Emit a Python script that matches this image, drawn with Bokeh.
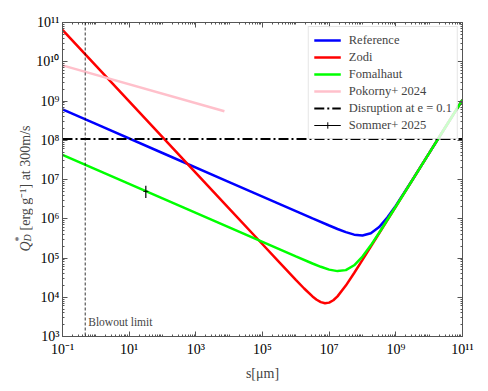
import numpy as np
from bokeh.plotting import figure
from bokeh.layouts import row
from bokeh.models import (FixedTicker, CustomJSTickFormatter, LogAxis, Label,
                          Legend, LegendItem, Span)
from bokeh.embed import file_html
from bokeh.resources import INLINE

FONT = "Liberation Serif"

# ---- data (log10 of s [um] and log10 of Q_D*) ----
ref_log_s = [-1, 0, 2, 4, 6, 6.5, 7, 7.25, 7.5, 7.75, 8, 8.25, 8.5, 8.75, 9, 9.5, 10, 10.5, 11]
ref_log_q = [8.785, 8.415, 7.675, 6.935, 6.195, 6.01, 5.828, 5.739, 5.658, 5.595, 5.573,
             5.629, 5.788, 6.036, 6.335, 6.994, 7.67, 8.35, 9.03]

zodi_log_s = [-1, 0, 2, 4, 5, 5.5, 6, 6.25, 6.5, 6.625, 6.75, 6.875, 7, 7.125, 7.25, 7.5,
              7.75, 8, 8.5, 9, 9.5, 10, 10.5, 11]
zodi_log_q = [10.81, 9.90, 8.08, 6.26, 5.35, 4.895, 4.443, 4.223, 4.020, 3.936, 3.875, 3.847,
              3.863, 3.923, 4.022, 4.297, 4.618, 4.952, 5.63, 6.31, 6.99, 7.67, 8.35, 9.03]

fom_log_s = [-1, 0, 2, 4, 5, 6, 6.5, 6.75, 7, 7.25, 7.5, 7.75, 8, 8.25, 8.5, 9, 9.5, 10, 10.5, 11]
fom_log_q = [7.63, 7.26, 6.52, 5.78, 5.41, 5.041, 4.860, 4.776, 4.704, 4.666, 4.691, 4.815,
             5.037, 5.323, 5.643, 6.312, 6.99, 7.67, 8.35, 9.03]

pokorny_s = [0.1, 7.2e3]
pokorny_q = [8.1e9, 5.5e8]

disruption_q = 1.07e8
blowout_s = 0.48

sommer_s = [31.6]
sommer_q = [5.0e6]
sommer_lo = [3.4e6]
sommer_hi = [6.9e6]

x_lim = [1e-1, 1e11]
y_lim = [1e3, 1e11]
x_major_exp = list(range(-1, 12, 2))
y_major_exp = list(range(3, 12))

LABEL_W = 33
TOTAL_W = 480
TOTAL_H = 383

# ---- main figure ----
p = figure(width=TOTAL_W - LABEL_W, height=TOTAL_H, x_axis_type="log", y_axis_type="log",
           x_range=(x_lim[0], x_lim[1]), y_range=(y_lim[0], y_lim[1]),
           output_backend="svg", toolbar_location=None,
           min_border_left=62 - LABEL_W, min_border_right=18, min_border_top=22,
           min_border_bottom=44)
p.background_fill_color = "white"
p.border_fill_color = "white"
p.outline_line_color = "#555555"
p.xgrid.grid_line_color = None
p.ygrid.grid_line_color = None

x_minor = [k * 10.0 ** n for n in range(-1, 11) for k in range(1, 10)
           if not (k == 1 and n in x_major_exp)]
y_minor = [k * 10.0 ** n for n in range(3, 11) for k in range(2, 10)]
xt = FixedTicker(ticks=[10.0 ** e for e in x_major_exp], minor_ticks=x_minor)
yt = FixedTicker(ticks=[10.0 ** e for e in y_major_exp], minor_ticks=y_minor)

fmt_code = """
const sup = {'-':'\u207b','0':'\u2070','1':'\u00b9','2':'\u00b2','3':'\u00b3','4':'\u2074',
             '5':'\u2075','6':'\u2076','7':'\u2077','8':'\u2078','9':'\u2079'};
const e = Math.round(Math.log10(tick));
return '10' + String(e).split('').map(c => sup[c]).join('');
"""


def style_axis(ax, show_labels, standoff=3):
    ax.axis_line_color = "#555555"
    ax.major_tick_line_color = "#555555"
    ax.minor_tick_line_color = "#555555"
    ax.major_tick_in = 5
    ax.major_tick_out = 0
    ax.minor_tick_in = 2
    ax.minor_tick_out = 0
    ax.major_label_text_font = FONT
    if show_labels:
        ax.major_label_text_font_size = "14px"
        ax.major_label_text_color = "black"
        ax.major_label_standoff = standoff
        ax.formatter = CustomJSTickFormatter(code=fmt_code)
    else:
        ax.major_label_text_font_size = "4px"
        ax.major_label_text_alpha = 0
        ax.major_label_standoff = 0
        ax.formatter = CustomJSTickFormatter(code="return ' ';")


xa = p.xaxis[0]
ya = p.yaxis[0]
xa.ticker = xt
ya.ticker = yt
style_axis(xa, True, standoff=5)
style_axis(ya, True, standoff=3)
xa.axis_label = "s[\u03bcm]"
xa.axis_label_text_font = FONT
xa.axis_label_text_font_size = "14px"
xa.axis_label_text_font_style = "normal"
xa.axis_label_standoff = 6

top = LogAxis(ticker=xt)
style_axis(top, False)
right = LogAxis(ticker=yt)
style_axis(right, False)
p.add_layout(top, "above")
p.add_layout(right, "right")

# ---- data renderers ----
r_ref = p.line(10.0 ** np.array(ref_log_s), 10.0 ** np.array(ref_log_q), line_color="#0000ff", line_width=2.5)
r_zodi = p.line(10.0 ** np.array(zodi_log_s), 10.0 ** np.array(zodi_log_q), line_color="#ff0000", line_width=2.5)
r_fom = p.line(10.0 ** np.array(fom_log_s), 10.0 ** np.array(fom_log_q), line_color="#00ff00", line_width=2.5)
r_pok = p.line(pokorny_s, pokorny_q, line_color="#ffc0cb", line_width=2.5)
r_dis = p.line(x_lim, [disruption_q, disruption_q], line_color="black", line_width=2,
               line_dash="10 3 2 3")

p.add_layout(Span(location=blowout_s, dimension="height", line_color="black",
                  line_width=0.8, line_dash="3 2"))
p.add_layout(Label(x=blowout_s, y=y_lim[0], x_offset=3, y_offset=9, text="Blowout limit",
                   text_font=FONT, text_font_size="11.5px", text_baseline="bottom",
                   text_align="left"))

p.segment(x0=sommer_s, y0=sommer_lo, x1=sommer_s, y1=sommer_hi, line_color="black", line_width=1.2)
p.scatter(sommer_s, sommer_q, marker="dash", size=5, line_color="black", line_width=1)
# legend-only glyphs for the Sommer entry (points placed outside the visible range)
leg_line = p.line([1e-3, 2e-3], [1e1, 1e1], line_color="black", line_width=1)
leg_tick = p.scatter([1e-3], [1e1], marker="cross", size=13,
                     line_color="black", line_width=1)

legend = Legend(items=[
    LegendItem(label="Reference", renderers=[r_ref]),
    LegendItem(label="Zodi", renderers=[r_zodi]),
    LegendItem(label="Fomalhaut", renderers=[r_fom]),
    LegendItem(label="Pokorny+ 2024", renderers=[r_pok]),
    LegendItem(label="Disruption at e = 0.1", renderers=[r_dis]),
    LegendItem(label="Sommer+ 2025", renderers=[leg_line, leg_tick]),
], location="top_right")
legend.label_text_font = FONT
legend.label_text_font_size = "12.5px"
legend.glyph_width = 27
legend.glyph_height = 16
legend.label_height = 16
legend.spacing = 1
legend.padding = 5
legend.margin = 4
legend.label_standoff = 8
legend.border_line_color = "#cccccc"
legend.background_fill_alpha = 0.8
p.add_layout(legend)

# ---- y axis label panel: Q*_D [erg g^-1] at 300m/s (rotated, composed of parts) ----
lab = figure(width=LABEL_W, height=TOTAL_H, x_range=(0, 1), y_range=(0, 1),
             x_axis_location=None, y_axis_location=None, toolbar_location=None,
             output_backend="svg", min_border=0)
lab.outline_line_color = None
lab.grid.visible = False
lab.background_fill_color = "white"
lab.border_fill_color = "white"

ylab_x = 25
ylab_y0 = 85
lab.add_layout(Label(x=ylab_x, y=ylab_y0, x_units="screen", y_units="screen", angle=np.pi / 2,
                     text="Q", text_font=FONT, text_font_style="italic", text_font_size="14px",
                     text_baseline="alphabetic", text_align="left"))
lab.add_layout(Label(x=ylab_x + 2, y=ylab_y0 + 10, x_units="screen", y_units="screen", angle=np.pi / 2,
                     text="D", text_font=FONT, text_font_style="italic", text_font_size="10px",
                     text_baseline="alphabetic", text_align="left"))
lab.add_layout(Label(x=ylab_x - 7, y=ylab_y0 + 10, x_units="screen", y_units="screen", angle=np.pi / 2,
                     text="*", text_font=FONT, text_font_size="10px",
                     text_baseline="alphabetic", text_align="left"))
lab.add_layout(Label(x=ylab_x, y=ylab_y0 + 21, x_units="screen", y_units="screen", angle=np.pi / 2,
                     text="[erg g\u207b\u00b9] at 300m/s", text_font=FONT, text_font_size="14px",
                     text_baseline="alphabetic", text_align="left"))

layout = row(lab, p)
open("out.html", "w").write(file_html(layout, INLINE))
